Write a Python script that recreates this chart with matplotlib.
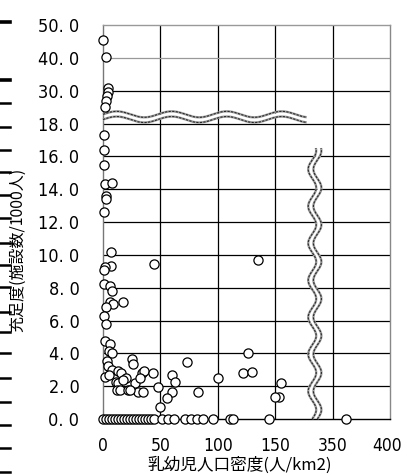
import numpy as np
import matplotlib; matplotlib.use("Agg")
import matplotlib.pyplot as plt
import matplotlib.font_manager as fm
from matplotlib.lines import Line2D
from matplotlib.ticker import FixedLocator, NullLocator
from matplotlib.transforms import ScaledTranslation

# data: infant population density vs facilities per 1000
DENSITY = [0, 2.3, 4, 4, 3.2, 2.6, 1.7,
           0.9, 0.9, 0.9, 1.7, 7.5, 2.6, 2.6, 0.9, 7, 7, 1.7, 0.9, 44.6, 135,
           0.9, 6, 7.5, 6, 9, 17.7, 2.6, 0.9, 2.6, 1.7, 6, 5.2, 7.5, 3.8, 4.6,
           7.5, 1.7, 5.2, 13.3, 15.4, 19.7, 11, 13.3, 11.9, 14.8, 22, 27.8,
           25.5, 26.4, 33.6, 36, 32.2, 43.8, 30.7, 35, 17.7, 23.5, 48, 59.7,
           62.6, 59.7, 55.4, 49.6, 82.9, 73.6, 126.4, 122, 130, 100.3, 171,
           162, 149.6]
SUFFICIENCY = [45.5, 40.2, 30.8, 29.6, 28.2, 26.1, 24.0,
               17.3, 16.4, 15.5, 14.3, 14.4, 13.6, 13.4, 12.6, 10.2, 9.3, 9.25,
               9.1, 9.45, 9.7,
               8.2, 8.1, 7.8, 7.15, 7.0, 7.15, 6.85, 6.3, 5.8, 4.78, 4.57, 4.16,
               4.04, 3.55, 3.2, 2.99, 2.58, 2.68, 2.93, 2.78, 2.48, 2.27, 2.18,
               1.77, 1.77, 1.77, 2.18, 3.64, 3.33, 2.82, 2.94, 2.48, 2.82, 1.66,
               1.66, 2.38, 1.77, 1.97, 2.68, 2.27, 1.66, 1.26, 0.75, 1.66, 3.45,
               4.04, 2.78, 2.85, 2.52, 2.18, 1.36, 1.36]
ZERO_DENSITY = [0, 2.6, 5.2, 7.8, 10.4, 13, 15.7, 18.3, 20.9, 23.5, 26.1,
                28.7, 31.3, 33.9, 36.5, 39.1, 41.7, 44.3, 51.3, 56.5, 61.7,
                71.3, 76.5, 81.7, 87, 95.7, 110.4, 113, 144.4, 362]

X_TICKS = [0, 50, 100, 150, 350, 400]
Y_TICKS = [0, 2, 4, 6, 8, 10, 12, 14, 16, 18, 30, 40, 50]
# broken axes: value knots -> drawn position knots
X_KNOTS, X_POS = [0, 150, 350, 400], [0, 3, 4, 5]
Y_KNOTS, Y_POS = [0, 18, 30, 50], [0, 9, 10, 12]

# stray tick marks of a neighbouring chart cut at the left edge (pixel rows)
EDGE_MARKS = [22, 80, 103, 127, 150, 172, 195, 218, 243, 265, 287, 312,
              332, 353, 378, 402, 425, 448, 472]

JP = ["Noto Sans CJK JP", "DejaVu Sans"]

plt.rcParams.update({"xtick.major.size": 0, "ytick.major.size": 0,
                     "xtick.major.pad": 13, "ytick.major.pad": 17})


def narrow_font(size):
    # the tick digits are tall and narrow; use a condensed sans if one is installed
    order = ["liberation", "dejavu", "roboto", "noto sans", "open sans"]
    best = None
    for f in fm.fontManager.ttflist:
        n = f.name.lower()
        if "mono" in n or "serif" in n or "cjk" in n or f.style != "normal":
            continue
        if f.weight not in (400, "normal", "regular"):
            continue
        st = f.stretch
        cond = ("narrow" in n or "condensed" in n or
                (isinstance(st, str) and "condensed" in st) or
                (isinstance(st, (int, float)) and st < 500))
        if not cond:
            continue
        rank = next((i for i, k in enumerate(order) if k in n), len(order))
        if best is None or rank < best[0]:
            best = (rank, f.fname)
    if best is None:
        return fm.FontProperties(family="DejaVu Sans", size=size * 0.82)
    return fm.FontProperties(fname=best[1], size=size)


def fx(v): return np.interp(v, X_KNOTS, X_POS)
def ix(p): return np.interp(p, X_POS, X_KNOTS)
def fy(v): return np.interp(v, Y_KNOTS, Y_POS)
def iy(p): return np.interp(p, Y_POS, Y_KNOTS)


W, H = 401, 476
fig = plt.figure(figsize=(W / 100, H / 100), dpi=100)
L, R, T, B = 103, 390, 25, 419
ax = fig.add_axes([L / W, (H - B) / H, (R - L) / W, (B - T) / H])
ax.set_xscale("function", functions=(fx, ix))
ax.set_yscale("function", functions=(fy, iy))
ax.set_xlim(0, 400); ax.set_ylim(0, 50)

ax.xaxis.set_major_locator(FixedLocator(X_TICKS)); ax.xaxis.set_minor_locator(NullLocator())
ax.yaxis.set_major_locator(FixedLocator(Y_TICKS)); ax.yaxis.set_minor_locator(NullLocator())
ax.set_xticklabels([str(v) for v in X_TICKS], fontproperties=narrow_font(12.5))
ax.set_yticklabels([f"{v:.1f}".replace(".", ". ") for v in Y_TICKS],
                   fontproperties=narrow_font(13))
last = ax.get_xticklabels()[-1]
last.set_transform(last.get_transform() + ScaledTranslation(-3 / 100, 0, fig.dpi_scale_trans))

for v in X_TICKS[1:-1]:
    ax.axvline(v, color="k", lw=0.9, zorder=1)
for v in Y_TICKS[1:-1]:
    ax.axhline(v, color="#999999" if v == 40 else "k", lw=0.9, zorder=1)
for s, c in [("left", "#777777"), ("top", "#999999"), ("right", "#888888"), ("bottom", "k")]:
    ax.spines[s].set_color(c); ax.spines[s].set_linewidth(1.0)

# wavy break marks (axes fraction; sizes in pixels of the axes box)
aw, ah = R - L, B - T


def wave(ax, t, centre, amp, period, length_px, vertical):
    phase = 2 * np.pi * t * length_px / period
    off = amp * np.sin(phase)
    for d in (-2.6, 2.6):
        if vertical:
            xs = centre + (off + d) / aw; ys = t
        else:
            xs = t; ys = centre + (off + d) / ah
        ax.plot(xs, ys, transform=ax.transAxes, color="#a0a0a0", lw=1.7, zorder=3,
                clip_on=False, solid_capstyle="butt")
        ax.plot(xs, ys, transform=ax.transAxes, color="#2a2a2a", lw=0.8, zorder=3,
                clip_on=False, dashes=(2, 1.2))
    if vertical:
        ax.fill_betweenx(t, centre + (off - 1.8) / aw, centre + (off + 1.8) / aw,
                         transform=ax.transAxes, color="white", lw=0, zorder=2.5)
    else:
        ax.fill_between(t, centre + (off - 1.8) / ah, centre + (off + 1.8) / ah,
                        transform=ax.transAxes, color="white", lw=0, zorder=2.5)


hx_end = fx(260) / X_POS[-1]
t = np.linspace(0, hx_end, 400)
wave(ax, t, 9.2 / Y_POS[-1], 3.0, 55, aw, vertical=False)
vy_end = fy(16.5) / Y_POS[-1]
t = np.linspace(0, vy_end, 400)
wave(ax, t, fx(288) / X_POS[-1], 4.0, 37, ah, vertical=True)

mk = dict(marker="o", ms=6.6, mfc="white", mec="k", mew=0.9, ls="none",
          clip_on=False, zorder=4)
ax.plot(DENSITY, SUFFICIENCY, **mk)
ax.plot(ZERO_DENSITY, np.zeros(len(ZERO_DENSITY)), **mk)

ax.set_xlabel("乳幼児人口密度(人/km2)", family=JP, fontsize=12)
ax.xaxis.set_label_coords((240 - L) / aw, (B - 465) / ah)
ax.xaxis.label.set_va("center")
ax.set_ylabel("充足度(施設数/1000人)", family=JP, fontsize=11.5)
ax.yaxis.set_label_coords((18 - L) / aw, (B - 250) / ah)
ax.yaxis.label.set_va("center")

for y in EDGE_MARKS:
    lw = 2.6 if y in (22, 80) else 1.8
    fig.add_artist(Line2D([0, 10 / W], [1 - y / H, 1 - y / H], color="k", lw=lw))

fig.savefig("out.png", dpi=100)
